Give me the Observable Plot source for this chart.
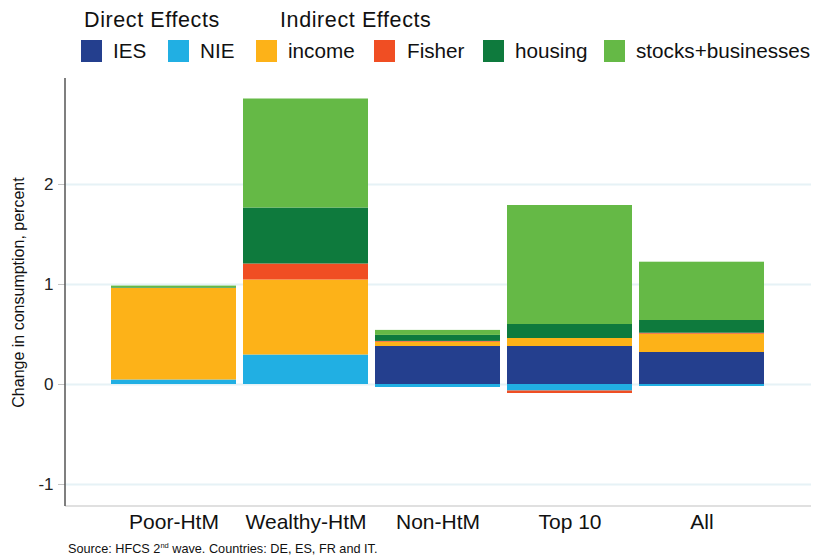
<!DOCTYPE html>
<html>
<head>
<meta charset="utf-8">
<script src="https://cdn.jsdelivr.net/npm/d3@7"></script>
<script src="https://cdn.jsdelivr.net/npm/@observablehq/plot@0.6"></script>
<style>
  html, body { margin: 0; padding: 0; background: #fff; }
  #wrap { position: relative; width: 817px; height: 558px; font-family: "Liberation Sans", Arial, sans-serif; color: #111; }
  #chart { position: absolute; left: 0; top: 0; }
  .abs { position: absolute; white-space: nowrap; line-height: 1; }
  .ttl { font-size: 21.5px; letter-spacing: 0.6px; top: 9.5px; }
  .sw { position: absolute; top: 40px; width: 21px; height: 22px; }
  .lab { font-size: 20.7px; top: 41px; }
  .cap { font-size: 12.7px; top: 542.5px; left: 68px; }
  .cap sup { font-size: 7.5px; vertical-align: 5px; line-height: 0; }
</style>
</head>
<body>
<div id="wrap">
  <div id="chart"></div>
</div>
<script>
// ---- data ----
const groups = ["Poor-HtM", "Wealthy-HtM", "Non-HtM", "Top 10", "All"];
const components = ["IES", "NIE", "income", "Fisher", "housing", "stocks+businesses"];
const colors = ["#243F8E", "#21AFE3", "#FDB218", "#F04E23", "#0E7A3D", "#65B946"];
const IES     = [0.000, 0.000, 0.380, 0.380, 0.320];
const NIE     = [0.045, 0.295, -0.030, -0.065, -0.020];
const income  = [0.915, 0.750, 0.043, 0.080, 0.183];
const Fisher  = [0.000, 0.160, 0.008, -0.025, 0.010];
const housing = [0.006, 0.560, 0.060, 0.140, 0.127];
const stocks  = [0.018, 1.090, 0.050, 1.190, 0.583];
const yTicks = [-1, 0, 1, 2];
const legendTitles = ["Direct Effects", "Indirect Effects"];
const yLabel = "Change in consumption, percent";

const series = [IES, NIE, income, Fisher, housing, stocks];
const rows = [];
groups.forEach((g, i) => {
  components.forEach((c, j) => rows.push({group: g, component: c, value: series[j][i]}));
});

// ---- legend (HTML) ----
const wrap = document.getElementById("wrap");
const titleX = [84, 280];
legendTitles.forEach((t, i) => {
  const d = document.createElement("div");
  d.className = "abs ttl"; d.style.left = titleX[i] + "px"; d.textContent = t;
  wrap.appendChild(d);
});
const swX = [81, 168, 256, 374, 483, 604];
const labX = [113, 200, 288, 407, 515, 636];
components.forEach((c, i) => {
  const s = document.createElement("div");
  s.className = "sw"; s.style.left = swX[i] + "px"; s.style.background = colors[i];
  wrap.appendChild(s);
  const l = document.createElement("div");
  l.className = "abs lab"; l.style.left = labX[i] + "px"; l.textContent = c;
  wrap.appendChild(l);
});
const cap = document.createElement("div");
cap.className = "abs cap";
cap.innerHTML = "Source: HFCS 2<sup>nd</sup> wave. Countries: DE, ES, FR and IT.";
wrap.appendChild(cap);

// ---- chart ----
const axisLines = (index, scales, values, dims) => {
  const g = d3.create("svg:g");
  const yb = dims.height - dims.marginBottom;
  g.append("line")
    .attr("x1", dims.marginLeft).attr("x2", dims.width - dims.marginRight)
    .attr("y1", yb).attr("y2", yb)
    .attr("stroke", "#d6d6d6").attr("stroke-width", 1.5);
  g.append("line")
    .attr("x1", dims.marginLeft).attr("x2", dims.marginLeft)
    .attr("y1", dims.marginTop).attr("y2", yb)
    .attr("stroke", "#555").attr("stroke-width", 1.5);
  return g.node();
};

const plot = Plot.plot({
  width: 817,
  height: 558,
  marginLeft: 65,
  marginRight: 6,
  marginTop: 78,
  marginBottom: 52,
  style: {fontFamily: "Liberation Sans, Arial, sans-serif", background: "transparent", overflow: "visible"},
  x: {domain: groups, range: [107.5, 767.5], paddingInner: 0.05, paddingOuter: 0.025, label: null},
  y: {domain: [-1.22, 3.06], label: null},
  color: {domain: components, range: colors},
  marks: [
    Plot.ruleY(yTicks, {stroke: "#e6f2f6", strokeWidth: 2}),
    Plot.barY(rows, {x: "group", y: "value", fill: "component"}),
    Plot.axisY({ticks: yTicks, tickSize: 7, tickPadding: 5, fontSize: 17, stroke: "#c4c4c4", fill: "#222", tickFormat: d => String(d), label: null}),
    Plot.axisX({tickSize: 0, tickPadding: 8, fontSize: 21, fill: "#111", label: null}),
    Plot.text([yLabel], {frameAnchor: "left", textAnchor: "middle", lineAnchor: "middle", rotate: -90, dx: -47, fontSize: 16, fill: "#111", text: d => d}),
    axisLines
  ]
});
document.getElementById("chart").appendChild(plot);
</script>
</body>
</html>
